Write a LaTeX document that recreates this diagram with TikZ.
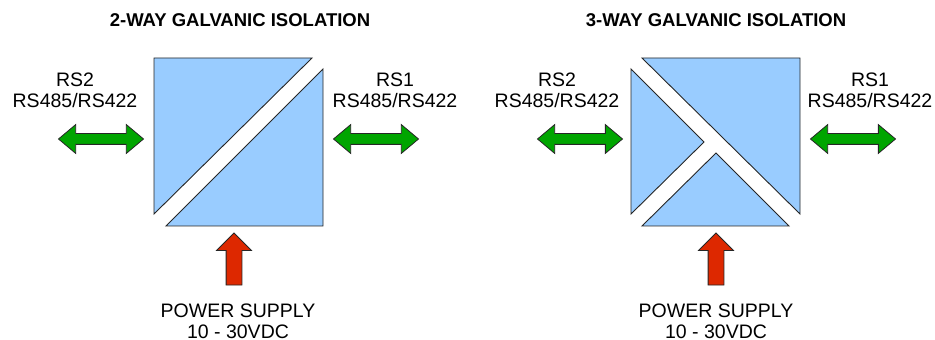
\documentclass[tikz,border=0pt]{standalone}
\usepackage{fontspec}
\setmainfont{Liberation Sans}
\usetikzlibrary{shapes.arrows}

\definecolor{isoblue}{RGB}{153,204,255}
\definecolor{busgreen}{RGB}{0,165,0}
\definecolor{pwrred}{RGB}{221,40,0}

\begin{document}
\begin{tikzpicture}[x=0.5pt,y=-0.5pt,
  part/.style={fill=isoblue, draw=black!85, line width=0.45pt},
  busarrow/.style={double arrow, draw=black!85, fill=busgreen, minimum height=42.5pt,
    minimum width=14pt, inner sep=2.5pt, double arrow head extend=4.5pt, double arrow tip angle=80},
  pwrarrow/.style={single arrow, draw=black!85, fill=pwrred, minimum height=26pt,
    minimum width=17pt, inner sep=3.75pt, single arrow head extend=4.75pt, rotate=90},
  lbl/.style={align=center, font=\fontsize{9.75}{10.5}\selectfont, inner sep=0pt},
  ttl/.style={font=\fontsize{9.25}{11}\selectfont\bfseries, inner sep=0pt}]
\useasboundingbox (0,0) rectangle (935,340);

% 2-way isolation
\begin{scope}[shift={(154,58)}]
\filldraw[part] (0,0) -- (158,0) -- (0,156) -- cycle;
\filldraw[part] (169,11) -- (169,168) -- (12,168) -- cycle;
\end{scope}
\node[ttl] (title2) at (240,20) {2-WAY GALVANIC ISOLATION};
\node[lbl] (rs2a) at (75,90) {RS2\\RS485/RS422};
\node[lbl] (rs1a) at (395,90) {RS1\\RS485/RS422};
\node[busarrow] (bus2a) at (101,139) {};
\node[busarrow] (bus1a) at (376,139) {};
\node[pwrarrow] (pwra) at (234,263) {};
\node[lbl] (supa) at (238,321) {POWER SUPPLY\\10 - 30VDC};

% 3-way isolation
\begin{scope}[shift={(631,58)}]
\filldraw[part] (0,11) -- (73,84) -- (0,156) -- cycle;
\filldraw[part] (11,0) -- (169,0) -- (169,156) -- cycle;
\filldraw[part] (11,168) -- (85,95) -- (158,168) -- cycle;
\end{scope}
\node[ttl] (title3) at (716,20) {3-WAY GALVANIC ISOLATION};
\node[lbl] (rs2b) at (557,90) {RS2\\RS485/RS422};
\node[lbl] (rs1b) at (870,90) {RS1\\RS485/RS422};
\node[busarrow] (bus2b) at (580,139) {};
\node[busarrow] (bus1b) at (853,139) {};
\node[pwrarrow] (pwrb) at (716,263) {};
\node[lbl] (supb) at (716,321) {POWER SUPPLY\\10 - 30VDC};
\end{tikzpicture}
\end{document}
